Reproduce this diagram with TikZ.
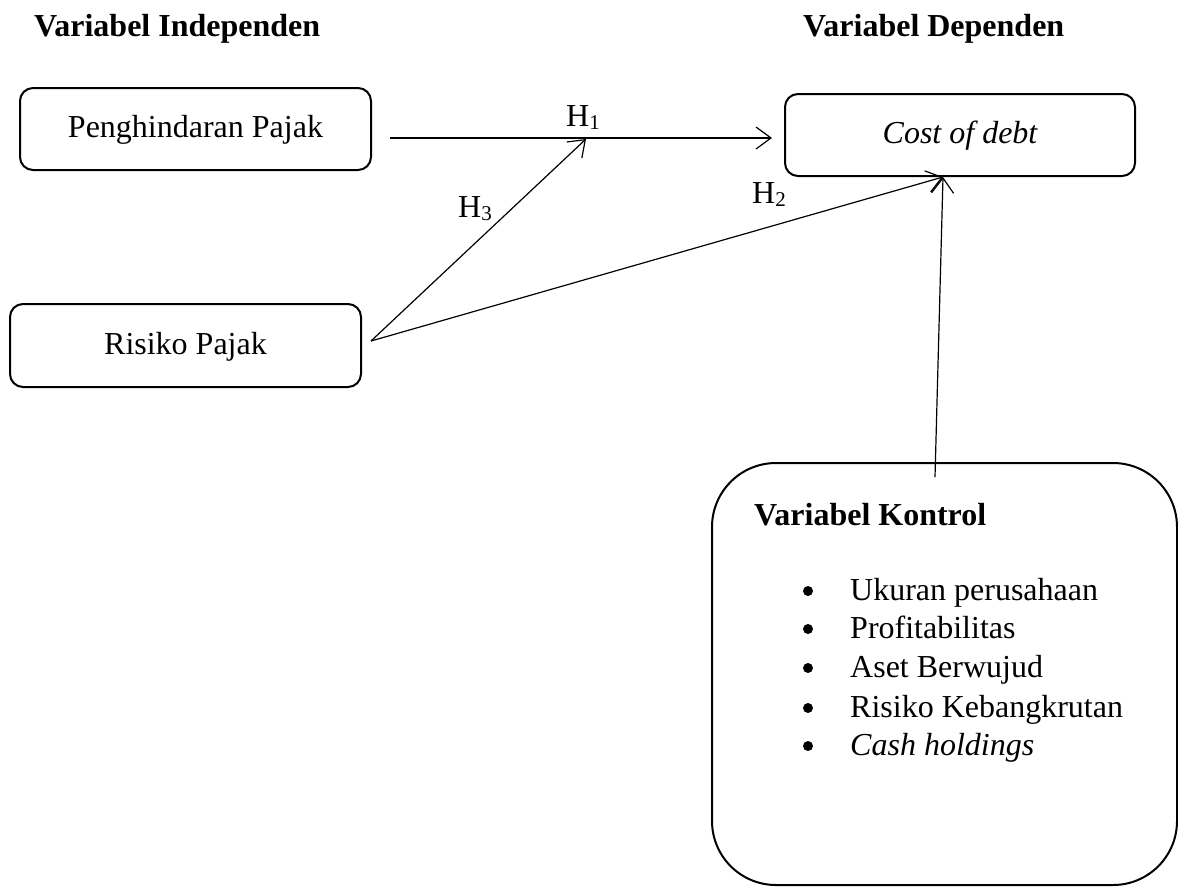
\documentclass[tikz,border=0pt]{standalone}
\usepackage{fontspec}
\setmainfont{Liberation Serif}
\usetikzlibrary{arrows.meta}
\newcommand{\hsub}[1]{H\raisebox{-3pt}{\fontsize{21}{21}\selectfont #1}}
\begin{document}
\begin{tikzpicture}[x=1pt,y=-1pt,
  every node/.style={font=\fontsize{32}{38}\selectfont, inner sep=0pt},
  varbox/.style={draw, line width=2pt, rounded corners=13pt, text height=22pt, text depth=5pt},
  conn/.style={line width=1.2pt, -{Straight Barb[length=15pt,width=22pt,line width=1.2pt]}},
  title/.style={font=\fontsize{32}{38}\selectfont\bfseries, anchor=base west},
  hyp/.style={anchor=base west},
  item/.style={anchor=base west},
  dot/.style={circle, fill=black, minimum size=10pt, inner sep=0pt}]
\useasboundingbox (0,0) rectangle (1178,887);
% boxes
\node[varbox, minimum width=351pt, minimum height=82pt] (peng) at (195.5,129) {Penghindaran Pajak};
\node[varbox, minimum width=351pt, minimum height=83pt] (risk) at (185.5,345.5) {Risiko Pajak};
\node[varbox, minimum width=350pt, minimum height=82pt] (cost) at (960,135) {\itshape Cost of debt};
\node[draw, line width=2pt, rounded corners=64pt, minimum width=465pt, minimum height=422pt] (kont) at (944.5,674) {};
% titles
\node[title] (tind) at (34,36) {Variabel Independen};
\node[title] (tdep) at (803,36) {Variabel Dependen};
\node[title] (tkon) at (754,525) {Variabel Kontrol};
% list
\foreach \y/\t [count=\i] in {600/Ukuran perusahaan,638/Profitabilitas,677/Aset Berwujud,717/Risiko Kebangkrutan,755/\itshape Cash holdings}{
  \node[dot] (b\i) at (808,\y-9) {};
  \node[item] (it\i) at (850,\y) {\t};
}
% connector points
\coordinate (h1s) at ([xshift=18pt]peng.east |- 0,138);
\coordinate (h1e) at ([xshift=-12pt]cost.west |- 0,138);
\coordinate (h3e) at (586,139);
\coordinate (rs) at ([xshift=9pt,yshift=4.5pt]risk.east);
\coordinate (cb) at ([xshift=-17pt]cost.south);
\coordinate (ks) at ([xshift=-9.5pt,yshift=-15pt]kont.north);
% connectors
\draw[conn] (h1s) -- (h1e);
\draw[conn] (rs) -- (h3e);
\draw[conn] (rs) -- (cb);
\draw[conn] (ks) -- (cb);
% labels
\node[hyp] (l1) at (566,126) {\hsub{1}};
\node[hyp] (l3) at (458,217) {\hsub{3}};
\node[hyp] (l2) at (752,203) {\hsub{2}};
\end{tikzpicture}
\end{document}
